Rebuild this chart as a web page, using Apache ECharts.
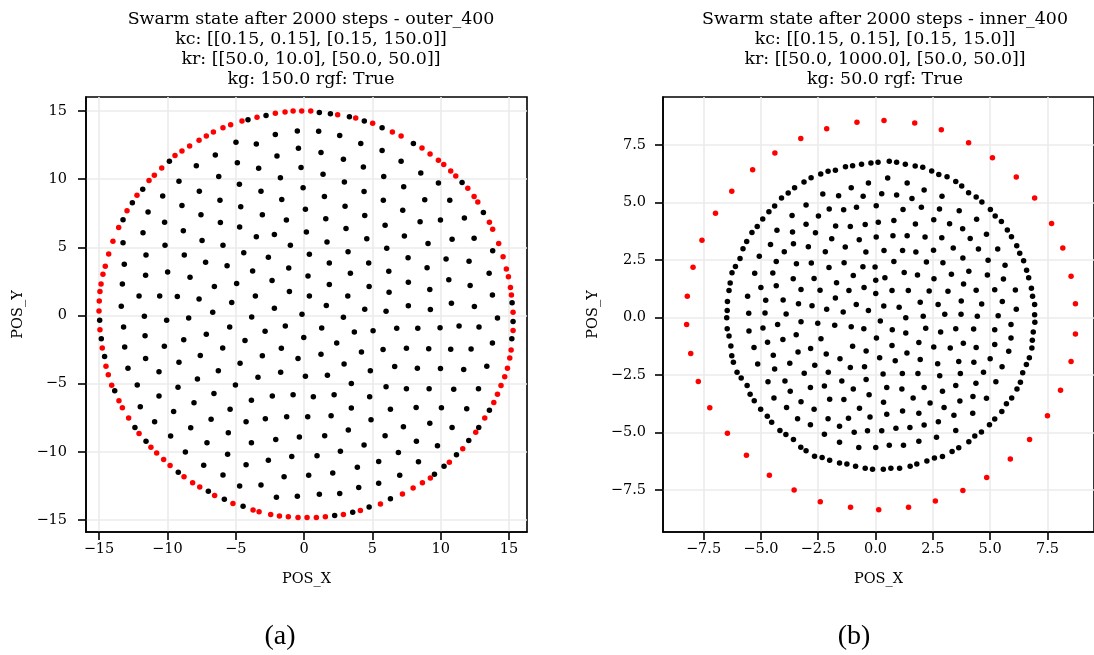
<!DOCTYPE html>
<html>
<head>
<meta charset="utf-8">
<script src="https://cdn.jsdelivr.net/npm/echarts@6/dist/echarts.min.js"></script>
<style>
  html, body { margin: 0; padding: 0; background: #fff; }
  #chart { width: 1094px; height: 655px; }
</style>
</head>
<body>
<div id="chart"></div>
<script>
// ---- data (x, y) ----
// panel (a) outer_400
var aRed = [
  [-0.17,15.0],[-0.80,15.0],[-1.39,14.93],[-2.10,14.83],[-3.44,14.54],[-4.54,14.27],[-5.37,14.0],[-5.93,13.78],[-6.63,13.46],[-7.15,13.17],
  [-7.68,12.85],[-8.37,12.44],[-8.93,12.07],[-9.44,11.73],[-10.41,10.83],[-10.95,10.29],[-11.34,9.90],[-12.22,8.83],[-12.95,7.68],[-13.56,6.46],
  [-13.98,5.44],[-14.29,4.51],[-14.54,3.61],[-14.71,3.02],[-14.85,2.32],[-14.93,1.76],[-14.98,1.07],[-15.0,0.34],
  [0.49,15.0],[2.46,14.73],[3.78,14.49],[5.02,14.10],[6.46,13.46],[7.10,13.17],[8.63,12.29],[9.22,11.85],[9.83,11.39],[10.22,11.07],
  [10.73,10.61],[11.10,10.24],[11.98,9.34],[12.44,8.73],[12.71,8.32],[13.56,6.85],[13.80,6.32],[14.24,5.29],[14.56,4.32],[14.80,3.41],
  [14.95,2.85],[15.10,2.05],[15.17,1.51],[15.29,0.24],
  [-14.93,-1.04],[-14.76,-2.38],[-14.49,-3.72],[-14.32,-4.35],[-14.07,-5.11],[-13.54,-6.26],[-13.29,-6.77],[-12.83,-7.52],[-12.07,-8.65],[-11.20,-9.67],
  [-10.78,-10.09],[-10.27,-10.57],[-9.80,-11.01],[-8.78,-11.82],[-8.15,-12.26],[-7.63,-12.57],[-6.54,-13.21],[-5.20,-13.79],[-3.73,-14.26],[-3.29,-14.40],
  [-2.44,-14.60],[-1.80,-14.70],[-1.15,-14.77],[-0.44,-14.82],
  [15.29,-1.09],[15.15,-2.52],[15.05,-3.11],[14.88,-3.87],[14.68,-4.50],[14.41,-5.13],[14.15,-5.77],[13.88,-6.38],[13.22,-7.52],[12.56,-8.57],
  [11.61,-9.77],[10.63,-10.77],[9.24,-11.91],[8.66,-12.26],[7.98,-12.65],[7.20,-13.09],[5.59,-13.82],[4.12,-14.30],[2.88,-14.60],[1.56,-14.77],
  [0.90,-14.82],[0.22,-14.82]
];
var aBlack = [
  // ring
  [-2.78,14.68],[-4.10,14.37],[-9.85,11.32],[-11.80,9.27],[-12.56,8.27],[-13.24,7.02],
  [1.12,14.90],[1.93,14.80],[3.32,14.59],[4.41,14.27],[5.71,13.78],[8.0,12.61],[11.56,9.76],[13.12,7.56],[15.22,0.93],
  [-14.95,-0.35],[-14.83,-1.70],[-14.59,-3.01],[-13.85,-5.52],[-12.37,-8.21],[-11.56,-9.23],[-9.20,-11.50],[-7.0,-12.89],[-5.83,-13.48],[-4.46,-13.99],
  [15.29,-0.43],[15.20,-1.70],[13.56,-6.94],[12.78,-8.21],[12.05,-9.16],[11.15,-10.21],[10.24,-11.06],[9.54,-11.65],[6.32,-13.45],[4.76,-14.04],
  [3.56,-14.43],[2.24,-14.67],
  // inside, top left
  [-0.49,13.54],[-2.10,13.27],[-0.41,12.27],[-1.98,11.71],[-3.49,12.59],[-4.98,12.71],[-4.88,11.20],[-3.32,10.80],[-6.49,11.78],[-7.88,10.98],
  [-0.22,10.85],[-1.73,10.10],[-4.73,9.63],[-6.24,10.20],[-9.15,9.85],[-0.07,9.37],[-3.15,9.12],[-1.63,8.51],[-7.66,9.12],[-10.34,8.76],
  [-6.15,8.46],[-4.63,7.98],[-8.93,8.07],[-11.41,7.59],[-3.05,7.39],[-1.29,7.0],[-7.54,7.39],[-10.20,6.85],[-6.12,6.83],[-4.71,6.49],
  [-8.83,6.22],[-11.78,6.07],[-3.49,5.78],[-2.17,5.95],[-1.0,5.15],[-7.46,5.51],[-10.17,5.15],[-5.93,5.15],[-13.24,5.34],[-4.41,4.61],
  [-2.61,4.27],[-8.76,4.44],[-11.56,4.44],[-7.20,3.90],[-5.63,3.66],[-3.76,3.27],[-1.12,3.49],[-13.15,3.76],[-9.98,3.20],[-11.59,2.95],
  [-8.34,2.80],[-6.56,2.12],[-4.93,2.34],[-2.34,2.56],[-13.29,2.32],[-12.07,1.44],[-10.56,1.44],[-9.27,1.39],[-7.68,1.22],[-5.29,0.95],
  [-3.56,1.44],[-1.07,1.76],[-13.37,0.68],[-6.68,0.24],[-2.17,0.54],[-0.15,0.10],
  // inside, top right
  [0.10,7.80],[0.17,6.12],[0.39,4.49],[0.29,2.90],[0.39,1.44],[1.07,13.51],[2.61,13.20],[4.15,12.61],[1.24,11.95],[2.88,11.46],
  [5.71,12.10],[4.34,10.90],[7.10,11.32],[1.39,10.37],[2.95,9.80],[5.83,10.20],[8.54,10.46],[9.83,9.73],[7.29,9.44],[4.39,9.10],
  [1.49,8.73],[3.0,8.02],[5.80,8.46],[8.83,8.49],[10.66,8.46],[7.22,7.73],[4.44,7.34],[1.59,7.10],[8.49,6.88],[9.98,7.0],
  [11.73,7.15],[5.93,6.63],[3.07,6.39],[1.68,5.39],[4.59,5.63],[7.34,5.83],[9.07,5.29],[10.83,5.59],[12.44,5.66],[13.80,4.76],
  [6.05,4.93],[3.22,4.68],[1.85,3.85],[4.73,3.85],[7.61,4.24],[10.39,4.15],[12.07,3.98],[9.0,3.51],[6.20,3.24],[3.39,3.10],
  [13.54,3.10],[1.85,2.27],[4.76,2.12],[7.63,2.44],[10.59,2.63],[9.20,1.90],[6.22,1.71],[3.20,1.44],[13.78,1.51],[12.15,2.20],
  [1.63,0.73],[4.44,0.46],[6.0,0.32],[7.63,0.71],[9.24,0.44],[10.78,0.90],[12.46,0.66],
  // inside, bottom left
  [-11.68,-0.06],[-10.05,-0.35],[-8.44,-0.18],[-3.83,-0.11],[-13.20,-0.84],[-11.63,-1.48],[-13.12,-2.30],[-10.22,-2.26],[-8.80,-1.77],[-7.15,-1.38],
  [-5.44,-0.84],[-4.32,-1.84],[-2.85,-1.16],[-1.37,-0.77],[-0.02,-1.62],[-5.95,-2.38],[-1.66,-2.40],[-11.59,-3.16],[-12.88,-3.87],[-10.61,-4.13],
  [-9.15,-3.43],[-7.59,-2.94],[-6.27,-4.06],[-4.68,-3.50],[-3.05,-2.96],[-0.44,-3.16],[-1.71,-4.16],[-3.37,-4.52],[-7.80,-4.65],[-12.20,-5.09],
  [-9.22,-5.26],[-5.02,-5.09],[-6.59,-5.72],[-10.61,-5.91],[-3.85,-6.21],[-2.32,-5.91],[-0.80,-5.82],[-11.98,-6.70],[-8.05,-6.40],[-5.41,-6.87],
  [-9.54,-7.04],[-10.93,-7.79],[-6.80,-7.60],[-4.24,-7.79],[-2.83,-7.57],[-1.27,-7.43],[-8.29,-8.23],[-9.76,-8.84],[-5.54,-8.60],[-7.10,-9.33],
  [-3.85,-9.33],[-2.07,-9.09],[-0.34,-8.91],[-8.68,-10.01],[-5.59,-10.18],[-2.61,-10.62],[-0.90,-10.35],[-7.34,-10.99],[-4.24,-10.94],[-5.93,-11.70],
  [-1.46,-11.82],[-4.71,-12.50],[-3.15,-12.43],[-2.02,-13.33],[-0.49,-13.26],
  // inside, bottom right
  [2.88,-0.13],[14.15,-0.18],[1.29,-0.91],[3.68,-1.21],[5.05,-1.11],[6.78,-0.94],[8.32,-0.94],[9.95,-0.89],[11.34,-0.77],[12.80,-0.84],
  [2.39,-2.01],[1.24,-2.84],[4.20,-2.67],[5.78,-2.50],[7.49,-2.40],[9.12,-2.43],[10.73,-2.48],[12.22,-2.45],[13.78,-2.01],[2.93,-3.55],
  [0.10,-4.45],[1.71,-4.38],[4.85,-4.06],[6.63,-3.74],[8.29,-3.87],[9.98,-3.89],[11.68,-3.96],[13.37,-3.72],[3.46,-4.99],[0.68,-5.96],
  [2.20,-5.82],[4.80,-5.96],[6.0,-5.23],[7.49,-5.38],[9.15,-5.38],[10.95,-5.40],[12.76,-5.38],[0.27,-7.43],[1.98,-7.35],[3.46,-6.79],
  [4.90,-7.65],[6.32,-6.87],[8.20,-6.74],[10.05,-6.77],[11.90,-6.84],[1.51,-8.82],[3.24,-8.40],[5.93,-8.82],[7.27,-8.16],[9.20,-7.91],
  [10.83,-8.21],[4.39,-9.50],[8.22,-9.23],[9.76,-9.55],[0.95,-10.28],[2.66,-9.96],[5.46,-10.70],[6.90,-10.04],[8.37,-10.72],[0.34,-11.72],
  [2.10,-11.55],[3.90,-11.13],[7.0,-11.72],[5.46,-12.30],[1.12,-13.11],[2.61,-13.06],[4.0,-12.62]
];

// panel (b) inner_400
var bRed = [
  [-0.81,8.49],[-2.13,8.21],[-3.26,7.78],[-4.39,7.15],[-5.36,6.43],[-6.27,5.49],[-6.98,4.53],[-7.57,3.36],[-7.96,2.18],[-8.21,0.92],
  [0.37,8.57],[1.71,8.46],[2.87,8.17],[4.06,7.60],[5.10,6.95],[6.14,6.11],[6.94,5.20],[7.68,4.09],[8.17,3.02],[8.53,1.79],[8.72,0.60],
  [-8.24,-0.31],[-8.06,-1.57],[-7.73,-2.78],[-7.23,-3.93],[-6.46,-5.04],[-5.63,-5.99],[-4.63,-6.86],[-3.55,-7.50],[-2.41,-8.01],[-1.09,-8.25],
  [8.72,-0.72],[8.53,-1.91],[8.07,-3.17],[7.50,-4.27],[6.72,-5.31],[5.88,-6.15],[4.85,-6.96],[3.81,-7.53],[2.61,-7.98],[1.44,-8.25],[0.14,-8.36]
];
var bBlack = [
  // ring
  [-0.20,6.72],[-0.61,6.67],[-1.0,6.60],[-1.31,6.56],[-1.75,6.40],[-2.07,6.36],[-2.39,6.24],[-2.81,6.08],[-3.12,5.89],[-3.53,5.64],
  [-3.81,5.41],[-4.10,5.20],[-4.40,4.85],[-4.65,4.60],[-4.92,4.28],[-5.16,3.96],[-5.39,3.70],[-5.62,3.30],[-5.78,2.99],[-5.91,2.57],
  [-6.11,2.22],[-6.26,1.95],[-6.34,1.50],[-6.39,1.17],[-6.46,0.70],[-6.47,0.30],
  [0.11,6.75],[0.60,6.80],[0.92,6.75],[1.30,6.67],[1.73,6.59],[2.06,6.53],[2.45,6.37],[2.76,6.22],[3.12,6.12],[3.50,5.91],
  [3.76,5.72],[4.06,5.43],[4.39,5.24],[4.64,5.02],[5.01,4.70],[5.22,4.41],[5.49,4.17],[5.75,3.80],[5.93,3.51],[6.16,3.12],
  [6.29,2.79],[6.46,2.47],[6.59,2.05],[6.68,1.73],[6.80,1.27],[6.85,0.92],[6.94,0.57],[6.94,0.12],
  [-6.49,-0.01],[-6.47,-0.49],[-6.39,-0.80],[-6.31,-1.24],[-6.27,-1.66],[-6.20,-1.95],[-6.04,-2.38],[-5.86,-2.63],[-5.60,-2.96],[-5.47,-3.34],
  [-5.29,-3.62],[-5.01,-3.99],[-4.72,-4.30],[-4.53,-4.56],[-4.17,-4.91],[-3.91,-5.09],[-3.58,-5.31],[-3.26,-5.64],[-3.03,-5.80],[-2.66,-6.04],
  [-2.33,-6.09],[-2.0,-6.21],[-1.57,-6.33],[-1.25,-6.37],[-0.87,-6.47],[-0.45,-6.56],[-0.13,-6.60],
  [6.95,-0.21],[6.88,-0.63],[6.84,-0.99],[6.82,-1.33],[6.71,-1.75],[6.58,-2.05],[6.42,-2.40],[6.32,-2.82],[6.17,-3.11],[5.94,-3.50],
  [5.71,-3.75],[5.51,-4.09],[5.20,-4.41],[4.97,-4.66],[4.62,-4.98],[4.33,-5.15],[4.07,-5.41],[3.63,-5.67],[3.34,-5.83],[2.92,-6.05],
  [2.57,-6.11],[2.24,-6.24],[1.80,-6.37],[1.51,-6.47],[1.05,-6.56],[0.67,-6.56],[0.34,-6.60],
  // inside, top left
  [-0.31,5.85],[-1.06,5.64],[-0.54,5.27],[-1.61,5.30],[-2.30,5.37],[0.03,4.86],[-0.83,4.79],[-1.39,4.69],[-2.02,4.72],[-3.03,4.89],
  [-2.49,4.41],[-3.64,4.44],[-0.45,4.04],[-1.10,3.96],[-1.74,3.98],[-3.03,4.05],[-4.30,3.79],[-3.62,3.72],[-2.62,3.69],[0.03,3.50],
  [-0.71,3.38],[-1.91,3.43],[-1.32,3.07],[-2.93,3.08],[-3.58,3.21],[-4.58,3.18],[-3.98,2.86],[-2.19,2.86],[-0.42,2.85],[-5.07,2.66],
  [-4.33,2.44],[-3.45,2.34],[-2.80,2.37],[-2.03,2.17],[-1.37,2.38],[-0.55,2.21],[-0.97,1.83],[-5.27,1.92],[-4.48,1.93],[-3.59,1.69],
  [-2.68,1.70],[-1.70,1.51],[0.01,1.62],[-5.0,1.30],[-4.33,1.38],[-3.25,1.22],[-2.42,1.18],[-1.16,1.17],[-0.50,1.30],[-5.58,0.92],
  [-4.79,0.75],[-4.03,0.76],[-3.36,0.60],[-2.77,0.51],[-1.75,0.85],[-2.13,0.36],[-1.41,0.24],[-0.84,0.56],[-0.31,0.30],[-5.53,0.18],
  [-4.82,0.19],[-3.90,0.15],
  // inside, top right
  [0.53,6.07],[1.38,5.85],[2.12,5.54],[2.90,5.27],[0.27,5.38],[0.92,5.33],[1.59,5.17],[1.20,4.70],[2.0,4.79],[2.79,4.72],
  [3.65,4.64],[4.41,4.27],[0.12,4.14],[0.80,4.22],[1.74,4.07],[2.54,4.25],[3.23,4.08],[3.80,3.86],[4.84,3.62],[0.76,3.56],
  [1.38,3.56],[2.16,3.50],[2.89,3.47],[4.13,3.44],[0.37,2.91],[1.18,2.91],[1.76,2.85],[2.53,2.92],[3.39,3.02],[4.49,2.98],
  [5.33,2.98],[3.81,2.59],[4.91,2.49],[5.65,2.27],[-0.02,2.20],[0.80,2.44],[2.22,2.41],[2.94,2.38],[1.25,1.96],[1.83,1.85],
  [2.55,1.69],[3.31,1.88],[4.07,2.01],[4.88,1.85],[5.58,1.67],[0.41,1.73],[3.84,1.46],[0.72,1.17],[1.43,1.17],[2.34,1.15],
  [3.16,1.14],[4.39,1.18],[5.20,1.21],[6.10,1.20],[0.01,1.04],[0.36,0.50],[1.03,0.44],[1.95,0.66],[2.73,0.57],[3.74,0.72],
  [4.63,0.59],[5.53,0.69],[6.14,0.36],[3.02,0.14],[3.73,0.14],
  // inside, bottom left
  [-5.52,-0.59],[-4.91,-0.46],[-4.27,-0.31],[-3.25,-0.18],[-2.52,-0.25],[-1.78,-0.34],[-1.06,-0.40],[-0.51,-0.49],[0.04,-0.89],[-5.30,-1.30],
  [-4.71,-1.08],[-4.04,-0.96],[-3.46,-0.75],[-2.38,-0.93],[-1.0,-1.25],[-4.46,-1.64],[-3.38,-1.50],[-2.83,-1.35],[-2.15,-1.59],[-1.55,-1.80],
  [-0.41,-1.46],[-5.14,-2.02],[-4.40,-2.24],[-3.74,-1.99],[-3.11,-2.43],[-2.65,-2.08],[-2.06,-2.38],[-1.10,-2.17],[-0.48,-2.14],[-4.69,-2.79],
  [-3.95,-2.76],[-2.84,-3.05],[-2.23,-2.98],[-1.47,-2.76],[-0.41,-2.70],[-3.72,-3.21],[-0.97,-3.11],[-0.28,-3.36],[-4.43,-3.50],[-3.25,-3.66],
  [-2.0,-3.56],[-1.38,-3.57],[-3.88,-3.91],[-2.68,-3.99],[-0.70,-3.95],[-3.40,-4.40],[-2.84,-4.67],[-2.07,-4.40],[-1.18,-4.38],[-0.24,-4.33],
  [-1.57,-4.73],[-2.23,-5.08],[-0.93,-4.99],[-0.35,-4.93],[-1.57,-5.43],[-0.73,-5.66],[0.01,-5.66],
  // inside, bottom right
  [0.21,-0.15],[1.32,-0.01],[2.08,0.05],[4.44,0.05],[5.35,0.08],[0.73,-0.53],[1.32,-0.67],[2.19,-0.47],[2.84,-0.63],[3.50,-0.49],
  [4.28,-0.50],[5.20,-0.53],[5.91,-0.31],[0.72,-1.22],[1.89,-1.09],[2.54,-1.28],[3.26,-1.33],[3.83,-1.12],[4.39,-1.30],[5.20,-1.17],
  [5.91,-0.89],[5.81,-1.47],[0.18,-1.75],[0.86,-1.88],[1.37,-1.54],[1.95,-1.83],[2.71,-2.01],[3.63,-1.91],[4.29,-1.95],[5.0,-1.79],
  [5.52,-2.14],[0.33,-2.46],[1.17,-2.44],[1.85,-2.44],[2.80,-2.53],[3.70,-2.44],[4.71,-2.38],[0.49,-3.05],[1.15,-3.11],[2.12,-3.04],
  [2.92,-3.21],[3.50,-2.96],[4.38,-2.86],[5.25,-2.80],[0.35,-3.69],[1.64,-3.50],[2.38,-3.72],[2.99,-3.91],[3.68,-3.63],[4.25,-3.44],
  [4.84,-3.51],[0.49,-4.21],[1.18,-4.07],[1.89,-4.17],[3.42,-4.25],[4.24,-4.17],[2.12,-4.68],[2.74,-4.54],[3.50,-4.91],[0.27,-4.93],
  [0.89,-4.82],[1.50,-4.78],[1.89,-5.38],[2.66,-5.21],[0.60,-5.56],[1.22,-5.56]
];

// tick labels
var ticksA = [-15, -10, -5, 0, 5, 10, 15];
var ticksB = [-7.5, -5.0, -2.5, 0.0, 2.5, 5.0, 7.5];

var titleA = 'Swarm state after 2000 steps - outer_400\nkc: [[0.15, 0.15], [0.15, 150.0]]\nkr: [[50.0, 10.0], [50.0, 50.0]]\nkg: 150.0 rgf: True';
var titleB = 'Swarm state after 2000 steps - inner_400\nkc: [[0.15, 0.15], [0.15, 15.0]]\nkr: [[50.0, 1000.0], [50.0, 50.0]]\nkg: 50.0 rgf: True';

var FONT = 'DejaVu Serif';

function minus(s) { return String(s).replace('-', '\u2212'); }
function fmtA(v) { return minus(Math.round(v)); }
function fmtB(v) { return minus(v.toFixed(1)); }

function makeAxis(grid, min, max, ticks, fmt, name, gap, margin) {
  return {
    type: 'value', gridIndex: grid, min: min, max: max,
    name: name, nameLocation: 'middle', nameGap: gap,
    nameTextStyle: { fontFamily: FONT, fontSize: 14.5, color: '#000' },
    axisLine: { show: true, onZero: false, lineStyle: { color: '#000', width: 1.6 } },
    axisTick: { show: true, length: 8, customValues: ticks, lineStyle: { color: '#000', width: 1.6 } },
    axisLabel: { customValues: ticks, formatter: fmt, margin: margin, fontFamily: FONT, fontSize: 14.5, color: '#000' },
    splitLine: { show: true, lineStyle: { color: '#ebebeb', width: 1.6 } }
  };
}

function dots(data, color, idx) {
  return {
    type: 'scatter', data: data, xAxisIndex: idx, yAxisIndex: idx,
    symbol: 'circle', symbolSize: 5.5, itemStyle: { color: color, opacity: 1 }, silent: true
  };
}

var myChart = echarts.init(document.getElementById('chart'), null, { renderer: 'canvas' });
myChart.setOption({
  animation: false,
  backgroundColor: '#fff',
  title: [
    { text: titleA, left: 306, top: 4, textAlign: 'center',
      textStyle: { fontFamily: FONT, fontSize: 17.4, fontWeight: 'normal', color: '#000', lineHeight: 20 } },
    { text: titleB, left: 880, top: 4, textAlign: 'center',
      textStyle: { fontFamily: FONT, fontSize: 17.4, fontWeight: 'normal', color: '#000', lineHeight: 20 } },
    { text: '(a)', left: 275, top: 618, textAlign: 'center',
      textStyle: { fontFamily: 'Liberation Serif', fontSize: 28, fontWeight: 'normal', color: '#000' } },
    { text: '(b)', left: 849, top: 618, textAlign: 'center',
      textStyle: { fontFamily: 'Liberation Serif', fontSize: 28, fontWeight: 'normal', color: '#000' } }
  ],
  grid: [
    { left: 86, top: 97, width: 441, height: 435, show: true, borderColor: '#000', borderWidth: 1.6, backgroundColor: 'transparent' },
    { left: 663, top: 97, width: 433, height: 435, show: true, borderColor: '#000', borderWidth: 1.6, backgroundColor: 'transparent' }
  ],
  xAxis: [
    makeAxis(0, -15.95, 16.31, ticksA, fmtA, 'POS_X', 40, 10),
    makeAxis(1, -9.27, 9.53, ticksB, fmtB, 'POS_X', 40, 10)
  ],
  yAxis: [
    makeAxis(0, -15.88, 16.03, ticksA, fmtA, 'POS_Y', 60, 19),
    makeAxis(1, -9.33, 9.59, ticksB, fmtB, 'POS_Y', 62, 17)
  ],
  series: [
    dots(aBlack, '#000000', 0),
    dots(aRed, '#ff0000', 0),
    dots(bBlack, '#000000', 1),
    dots(bRed, '#ff0000', 1)
  ]
});
</script>
</body>
</html>
